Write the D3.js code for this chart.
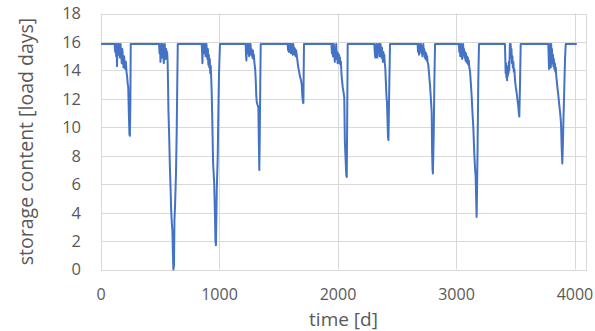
<!DOCTYPE html>
<html>
<head>
<meta charset="utf-8">
<script src="https://cdn.jsdelivr.net/npm/d3@7"></script>
<style>
  html, body { margin: 0; padding: 0; background: #fff; }
  svg { display: block; font-family: "Open Sans", "Liberation Sans", sans-serif; }
</style>
</head>
<body>
<script>
// storage level when the store is full
const FULL = 15.85;
const lastDay = 4015;

// axis ticks
const xTicks = [0, 1000, 2000, 3000, 4000];
const yTicks = [0, 2, 4, 6, 8, 10, 12, 14, 16, 18];

// dry periods, [day, storage content]
const dry01 = [[115,15.85],[120,15.3],[124,15.85],[128,15.0],[131,15.85],[135,14.3],[139,15.6],[143,15.85],[147,15.1],[151,15.85],[156,15.4],[160,14.9],[165,15.85],[170,15.2],[175,14.5],[180,15.5],[185,14.8],[190,14.2],[195,15.0],[200,14.4],[205,14.1],[210,14.6],[215,13.9],[220,13.6],[225,13.1],[230,12.8],[235,11.0],[240,9.5],[244,9.4],[248,12],[251,15.85]];
const dry02 = [[490,15.85],[494,15.2],[498,15.85],[502,14.6],[506,15.5],[510,15.85],[514,14.9],[518,15.3],[522,15.85],[526,15.0],[530,14.5],[534,15.4],[538,15.85],[542,15.1],[546,14.8],[550,15.5],[554,15.0],[558,15.3],[562,14.7],[566,13.0],[569,11.2],[575,9.5],[582,7.0],[588,5.5],[592,4.2],[598,3.2],[603,2.7],[607,1.0],[611,0],[616,0.3],[620,3.5],[625,4.5],[633,6.8],[639,9.8],[644,13.3],[648,15.85]];
const dry03 = [[850,15.85],[853,15.3],[856,14.5],[859,15.6],[862,15.85],[866,15.2],[870,15.85],[874,15.4],[878,15.85],[882,15.0],[886,15.6],[890,15.85],[894,15.3],[898,14.8],[902,15.5],[906,14.4],[910,15.1],[914,14.2],[918,14.8],[922,13.8],[926,14.3],[930,13.5],[934,12.5],[938,11.0],[946,7.5],[955,6.1],[962,3.7],[966,2.0],[970,1.7],[977,5.6],[985,7.9],[990,11],[996,13.8],[1004,15.85]];
const dry04 = [[1221,15.85],[1224,15.1],[1227,14.7],[1230,15.6],[1234,15.85],[1238,15.2],[1242,15.85],[1246,15.3],[1250,15.0],[1254,15.85],[1258,15.4],[1262,15.85],[1266,15.1],[1270,15.5],[1274,15.2],[1278,14.9],[1282,15.4],[1286,14.8],[1290,15.1],[1294,14.6],[1298,14.3],[1302,14.0],[1306,13.3],[1310,12.3],[1314,11.8],[1320,11.6],[1328,11.4],[1332,9.0],[1336,7.0],[1340,9.5],[1344,13],[1348,15.85]];
const dry05 = [[1575,15.85],[1579,15.4],[1583,15.85],[1587,15.3],[1591,15.85],[1595,15.5],[1599,15.85],[1603,15.2],[1607,15.6],[1611,15.85],[1615,15.4],[1619,15.1],[1623,15.85],[1627,15.3],[1631,15.6],[1635,15.1],[1639,15.5],[1643,15.0],[1647,15.4],[1651,15.1],[1656,14.8],[1663,14.3],[1670,14.0],[1678,13.6],[1688,13.3],[1694,13.0],[1699,12.2],[1704,11.8],[1708,11.7],[1713,15.85]];
const dry06 = [[1945,15.85],[1949,15.2],[1953,15.85],[1957,15.0],[1961,15.6],[1965,15.85],[1969,15.1],[1973,14.6],[1977,15.5],[1981,15.0],[1985,15.85],[1989,14.8],[1993,15.3],[1997,14.5],[2001,15.2],[2005,14.7],[2009,15.1],[2013,14.5],[2017,14.9],[2021,14.4],[2025,14.6],[2029,13.8],[2033,13.4],[2040,12.8],[2048,12.4],[2053,12.1],[2058,9.0],[2064,7.8],[2070,6.6],[2074,6.5],[2078,11],[2082,15.85]];
const dry07 = [[2307,15.85],[2311,15.2],[2315,14.9],[2319,15.6],[2323,15.85],[2327,15.1],[2331,14.9],[2335,15.7],[2339,15.85],[2343,15.3],[2347,15.85],[2351,15.0],[2355,15.5],[2359,15.85],[2363,15.2],[2367,14.9],[2371,15.6],[2375,15.0],[2379,14.6],[2383,15.3],[2387,14.8],[2391,15.1],[2395,14.5],[2399,14.2],[2404,13.2],[2409,12.2],[2413,11.8],[2418,10.5],[2422,9.3],[2426,9.1],[2432,12.5],[2439,15.85]];
const dry08 = [[2672,15.85],[2676,15.3],[2680,15.85],[2684,15.1],[2688,15.6],[2692,15.85],[2696,15.4],[2700,15.85],[2704,15.2],[2708,15.6],[2712,15.0],[2716,15.5],[2720,15.85],[2724,15.2],[2728,15.5],[2732,14.9],[2736,15.3],[2740,14.8],[2744,15.2],[2748,14.7],[2752,15.0],[2756,14.6],[2762,14.4],[2770,13.6],[2777,12.9],[2784,12.0],[2791,11.0],[2794,8.4],[2798,7.0],[2801,6.75],[2808,9.5],[2813,13.0],[2819,15.85]];
const dry09 = [[3020,15.85],[3024,15.3],[3028,15.85],[3032,15.0],[3036,15.6],[3040,15.85],[3044,15.2],[3048,14.8],[3052,15.5],[3056,15.85],[3060,15.1],[3064,15.5],[3068,14.9],[3072,15.3],[3076,14.7],[3080,15.2],[3084,14.6],[3088,15.0],[3092,14.5],[3096,14.9],[3100,14.4],[3104,14.7],[3108,14.2],[3114,14.0],[3121,13.1],[3128,12.2],[3135,11.0],[3142,10.0],[3150,8.2],[3156,7.2],[3162,6.5],[3166,5.0],[3170,3.7],[3174,6.0],[3178,8.5],[3184,13.3],[3190,15.85]];
const dry10 = [[3409,15.85],[3412,14.8],[3415,13.8],[3418,14.5],[3421,13.5],[3424,14.2],[3427,13.3],[3430,14.0],[3433,13.6],[3436,14.3],[3439,13.8],[3442,14.6],[3445,14.0],[3448,14.8],[3451,15.85],[3454,15.2],[3457,15.85],[3460,14.9],[3464,15.5],[3468,14.5],[3472,15.0],[3476,14.2],[3480,14.6],[3484,13.9],[3488,14.1],[3494,13.3],[3501,12.8],[3508,12.4],[3515,11.9],[3522,11.45],[3526,11.0],[3530,10.75],[3536,13.0],[3542,15.85]];
const dry11 = [[3775,15.85],[3778,15.0],[3781,14.1],[3784,15.3],[3787,15.85],[3790,14.6],[3793,15.4],[3796,14.2],[3799,15.85],[3802,14.9],[3806,15.5],[3810,14.5],[3814,15.1],[3818,14.3],[3822,14.8],[3826,14.1],[3830,14.5],[3834,13.9],[3838,14.2],[3842,13.6],[3846,13.3],[3853,12.7],[3860,12.2],[3867,11.6],[3875,11.0],[3882,10.3],[3888,8.5],[3893,7.45],[3897,8.5],[3902,10.3],[3909,12.5],[3916,14.8],[3922,15.85]];

const series = [[0, FULL]].concat(dry01, dry02, dry03, dry04, dry05, dry06,
    dry07, dry08, dry09, dry10, dry11, [[lastDay, FULL]]);

const width = 595, height = 331;
const margin = { top: 13.5, right: 9, bottom: 61.5, left: 101 };

const svg = d3.select("body").append("svg")
    .attr("width", width)
    .attr("height", height);

const x = d3.scaleLinear()
    .domain([0, 4093])
    .range([margin.left, width - margin.right]);

const y = d3.scaleLinear()
    .domain([0, 18])
    .range([height - margin.bottom, margin.top]);

const grey = "#d9d9d9";

// gridlines
svg.append("g")
    .selectAll("line")
    .data(yTicks)
    .enter().append("line")
    .attr("x1", x.range()[0])
    .attr("x2", x.range()[1])
    .attr("y1", d => Math.round(y(d)) + 0.5)
    .attr("y2", d => Math.round(y(d)) + 0.5)
    .style("stroke", grey);

svg.append("g")
    .selectAll("line")
    .data(xTicks)
    .enter().append("line")
    .attr("x1", d => Math.round(x(d)) + 0.5)
    .attr("x2", d => Math.round(x(d)) + 0.5)
    .attr("y1", y.range()[0])
    .attr("y2", y.range()[1])
    .style("stroke", grey);

// plot area border
svg.append("rect")
    .attr("x", Math.round(x.range()[0]) + 0.5)
    .attr("y", Math.round(y.range()[1]) + 0.5)
    .attr("width", Math.round(x.range()[1] - x.range()[0]))
    .attr("height", Math.round(y.range()[0] - y.range()[1]))
    .style("fill", "none")
    .style("stroke", grey);

// storage line
const line = d3.line()
    .x(d => x(d[0]))
    .y(d => y(d[1]));

svg.append("path")
    .datum(series)
    .attr("d", line)
    .style("fill", "none")
    .style("stroke", "#4472c4")
    .style("stroke-width", 2)
    .style("stroke-linejoin", "round");

// tick labels
const labelColor = "#595959";

svg.append("g")
    .selectAll("text")
    .data(yTicks)
    .enter().append("text")
    .attr("x", 81)
    .attr("y", d => y(d))
    .attr("dy", "0.36em")
    .attr("text-anchor", "end")
    .style("font-size", "16.5px")
    .style("fill", labelColor)
    .text(d => d);

svg.append("g")
    .selectAll("text")
    .data(xTicks)
    .enter().append("text")
    .attr("x", d => x(d))
    .attr("y", 300)
    .attr("text-anchor", "middle")
    .style("font-size", "16px")
    .style("fill", labelColor)
    .text(d => d);

// axis titles
svg.append("text")
    .attr("x", (x.range()[0] + x.range()[1]) / 2)
    .attr("y", 325.5)
    .attr("text-anchor", "middle")
    .style("font-size", "19px")
    .style("fill", labelColor)
    .text("time [d]");

svg.append("text")
    .attr("transform", `translate(33,${(y.range()[0] + y.range()[1]) / 2}) rotate(-90)`)
    .attr("text-anchor", "middle")
    .style("font-size", "19.5px")
    .style("fill", labelColor)
    .text("storage content [load days]");
</script>
</body>
</html>
